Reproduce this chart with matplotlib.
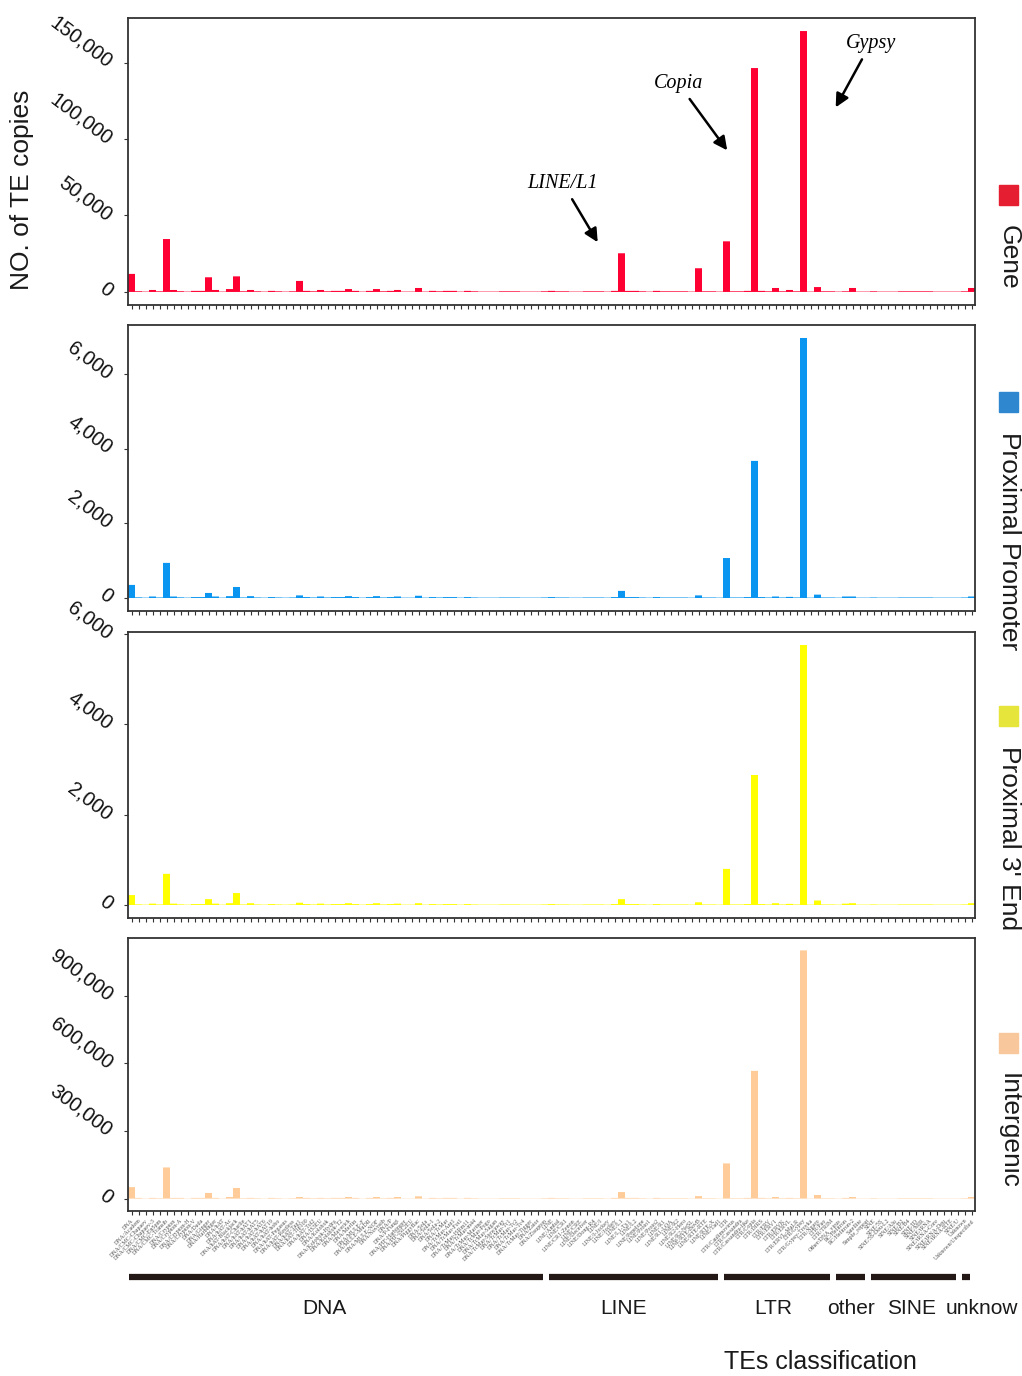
import numpy as np
import matplotlib
matplotlib.use('Agg')
from matplotlib import pyplot as plt
from matplotlib.patches import Rectangle

plt.rcParams['font.family'] = ['Liberation Sans', 'DejaVu Sans']

categories = [
    'DNA', 'DNA/Academ', 'DNA/CMC-Chapaev', 'DNA/CMC-Chapaev-3', 'DNA/CMC-EnSpm',
    'DNA/CMC-Transib', 'DNA/Crypton', 'DNA/Crypton-A', 'DNA/Crypton-H', 'DNA/Crypton-V',
    'DNA/Dada', 'DNA/Ginger', 'DNA/Harbinger', 'DNA/hAT', 'DNA/hAT-Ac',
    'DNA/hAT-Blackjack', 'DNA/hAT-Charlie', 'DNA/hAT-hAT1', 'DNA/hAT-hAT5', 'DNA/hAT-hAT6',
    'DNA/hAT-hAT19', 'DNA/hAT-hobo', 'DNA/hAT-Pegasus', 'DNA/hAT-Restless', 'DNA/hAT-Tag1',
    'DNA/hAT-Tip100', 'DNA/hAT-Tol2', 'DNA/IS3EU', 'DNA/Kolobok', 'DNA/Kolobok-Hydra',
    'DNA/Kolobok-T2', 'DNA/Maverick', 'DNA/Merlin', 'DNA/MULE-F', 'DNA/MULE-MuDR',
    'DNA/MULE-NOF', 'DNA/Novosib', 'DNA/P', 'DNA/P-Fungi', 'DNA/PIF-Harbinger',
    'DNA/PIF-ISL2EU', 'DNA/PiggyBac', 'DNA/Sola', 'DNA/Sola-1', 'DNA/Sola-2',
    'DNA/TcMar', 'DNA/TcMar-Ant1', 'DNA/TcMar-Fot1', 'DNA/TcMar-ISRm11', 'DNA/TcMar-m44',
    'DNA/TcMar-Mariner', 'DNA/TcMar-Pogo', 'DNA/TcMar-Sagan', 'DNA/TcMar-Stowaway', 'DNA/TcMar-Tc1',
    'DNA/TcMar-Tc2', 'DNA/TcMar-Tc4', 'DNA/TcMar-Tigger', 'DNA/Zator', 'DNA/Zisupton',
    'LINE', 'LINE/Ambal', 'LINE/CR1', 'LINE/CR1-Zenon', 'LINE/CRE',
    'LINE/Deceiver', 'LINE/Dong-R4', 'LINE/I', 'LINE/I-Jockey', 'LINE/Jockey',
    'LINE/L1', 'LINE/L1-Tx1', 'LINE/L2', 'LINE/Penelope', 'LINE/Proto1',
    'LINE/Proto2', 'LINE/R1', 'LINE/R1-LOA', 'LINE/R2', 'LINE/R2-Hero',
    'LINE/R2-NeSL', 'LINE/RTE-BovB', 'LINE/RTE-RTE', 'LINE/RTE-X', 'LINE/Tad1',
    'LTR', 'LTR/Caulimovirus', 'LTR/Cassandra', 'LTR/Cassandra-like', 'LTR/Copia',
    'LTR/DIRS', 'LTR/ERV', 'LTR/ERV1', 'LTR/ERVK', 'LTR/ERVL',
    'LTR/ERVL-MaLR', 'LTR/Gypsy', 'LTR/Gypsy-Troyka', 'LTR/Ngaro', 'LTR/Pao',
    'LTR/TRIM', 'Other/DNA_virus', 'RC/Helitron', 'RC/Helitron-2', 'Satellite',
    'Simple_repeat', 'SINE', 'SINE/5S', 'SINE/5S-Deu-L2', 'SINE/Alu',
    'SINE/B2', 'SINE/B4', 'SINE/ID', 'SINE/MIR', 'SINE/tRNA',
    'SINE/tRNA-Core', 'SINE/tRNA-Deu', 'SINE/tRNA-RTE', 'SINE/U', 'Unknown',
    'Unknown/Unspecified',
]

group_names = ['DNA', 'LINE', 'LTR', 'other', 'SINE', 'unknow']
group_sizes = [60, 25, 16, 5, 13, 2]
# label centres below the classification bars, in pixels from the left
group_label_px = [324, 624, 773, 851, 912, 982]

gene = [
    11800, 500, 250, 1300, 450, 34600, 1300, 500, 250, 700,
    700, 9600, 1300, 250, 1900, 10200, 450, 1300, 450, 250,
    700, 450, 250, 450, 7200, 700, 450, 1300, 450, 700,
    700, 1900, 700, 250, 700, 1900, 450, 700, 1300, 250,
    250, 2600, 250, 700, 450, 700, 700, 250, 700, 450,
    250, 250, 250, 450, 450, 450, 250, 250, 250, 450,
    700, 450, 450, 250, 250, 450, 450, 450, 250, 700,
    25300, 700, 700, 450, 250, 700, 450, 450, 450, 450,
    250, 15500, 450, 450, 250, 33100, 450, 450, 700, 146400,
    700, 450, 2600, 450, 1300, 450, 170600, 250, 3200, 450,
    450, 250, 450, 2600, 250, 250, 450, 250, 250, 250,
    450, 450, 450, 450, 450, 250, 250, 250, 250, 450,
    2600,
]

promoter = [
    350, 18, 10, 40, 15, 940, 40, 18, 10, 25,
    25, 135, 40, 10, 50, 295, 15, 50, 15, 10,
    25, 15, 10, 15, 70, 25, 15, 40, 15, 25,
    25, 50, 25, 10, 25, 50, 15, 25, 40, 10,
    10, 60, 10, 25, 15, 25, 25, 10, 25, 15,
    10, 10, 10, 15, 15, 15, 10, 10, 10, 15,
    25, 15, 15, 10, 10, 15, 15, 15, 10, 25,
    190, 25, 25, 15, 10, 25, 15, 15, 15, 15,
    10, 70, 15, 15, 10, 1070, 15, 15, 25, 3670,
    25, 15, 40, 15, 30, 15, 6960, 10, 90, 15,
    15, 10, 40, 40, 10, 10, 15, 10, 10, 10,
    15, 15, 15, 15, 15, 10, 10, 10, 10, 15,
    40,
]

end3 = [
    220, 14, 8, 30, 12, 690, 30, 14, 8, 20,
    20, 130, 30, 8, 40, 265, 12, 40, 12, 8,
    20, 12, 8, 12, 50, 20, 12, 30, 12, 20,
    20, 40, 20, 8, 20, 40, 12, 20, 30, 8,
    8, 40, 8, 20, 12, 20, 20, 8, 20, 12,
    8, 8, 8, 12, 12, 12, 8, 8, 8, 12,
    20, 12, 12, 8, 8, 12, 12, 12, 8, 20,
    130, 20, 20, 12, 8, 20, 12, 12, 12, 12,
    8, 60, 12, 12, 8, 800, 12, 12, 20, 2880,
    20, 12, 40, 12, 25, 12, 5760, 8, 100, 12,
    12, 8, 30, 40, 8, 8, 12, 8, 8, 8,
    12, 12, 12, 12, 12, 8, 8, 8, 8, 12,
    40,
]

intergenic = [
    51000, 3000, 1000, 3000, 2000, 138000, 3000, 3000, 1000, 3000,
    3000, 25000, 3000, 1000, 7000, 47000, 2000, 3000, 2000, 1000,
    3000, 2000, 1000, 2000, 7000, 3000, 2000, 3000, 2000, 3000,
    3000, 7000, 3000, 1000, 3000, 7000, 2000, 3000, 7000, 1000,
    1000, 10000, 1000, 3000, 2000, 3000, 3000, 1000, 3000, 2000,
    1000, 1000, 1000, 2000, 2000, 2000, 1000, 1000, 1000, 2000,
    3000, 2000, 2000, 1000, 1000, 2000, 2000, 2000, 1000, 3000,
    29000, 3000, 3000, 2000, 1000, 3000, 2000, 2000, 2000, 2000,
    1000, 11000, 2000, 2000, 1000, 156000, 2000, 2000, 3000, 566000,
    3000, 2000, 7000, 2000, 3000, 2000, 1100000, 1000, 16000, 2000,
    2000, 1000, 3000, 7000, 1000, 1000, 2000, 1000, 1000, 1000,
    2000, 2000, 2000, 2000, 2000, 1000, 1000, 1000, 1000, 2000,
    7000,
]

panel_names = ['Gene', 'Proximal Promoter', "Proximal 3' End", 'Intergenic']
series = [gene, promoter, end3, intergenic]
bar_colors = ['#FF0033', '#0A96F0', '#FFFF00', '#FFCC99']
key_colors = ['#E61E32', '#2F88CF', '#E5E53C', '#F8C79B']
yticks = [
    [0, 50000, 100000, 150000],
    [0, 2000, 4000, 6000],
    [0, 2000, 4000, 6000],
    [0, 300000, 600000, 900000],
]

W, H = 1022, 1376
fig = plt.figure(figsize=(W / 100, H / 100), dpi=100)


def box(l, t, r, b):
    return [l / W, 1 - b / H, (r - l) / W, (b - t) / H]


panel_px = [(18, 305), (325, 611), (632, 918), (938, 1211)]
key_px = [195, 402, 716, 1043]
n = len(categories)
x = np.arange(n)

axes = []
for k, (vals, (top, bot)) in enumerate(zip(series, panel_px)):
    ax = fig.add_axes(box(128, top, 975, bot))
    ax.bar(x, vals, width=1.0, color=bar_colors[k], linewidth=0, snap=False)
    vmax = max(vals)
    ax.set_ylim(-0.05 * vmax, 1.05 * vmax)
    ax.set_xlim(-0.5, n - 0.5)
    ax.set_yticks(yticks[k])
    ax.set_yticklabels([f'{v:,}' for v in yticks[k]], fontsize=14.5, color='#111111')
    for lbl in ax.get_yticklabels():
        lbl.set_rotation(-37)
        lbl.set_rotation_mode('anchor')
        lbl.set_ha('right')
        lbl.set_va('center_baseline')
    ax.set_xticks(x)
    if k < 3:
        ax.set_xticklabels([])
    else:
        ax.set_xticklabels(categories, rotation=45, ha='right',
                           rotation_mode='anchor', fontsize=4.3,
                           family='Liberation Serif', color='#555555')
    ax.tick_params(axis='both', length=3, width=0.8, color='#333333')
    ax.tick_params(axis='y', pad=9)
    ax.tick_params(axis='x', pad=2)
    for s in ax.spines.values():
        s.set_color('#333333')
        s.set_linewidth(1.3)
    axes.append(ax)

    # coloured key on the right
    cy = key_px[k]
    fig.patches.append(Rectangle((999 / W, 1 - (cy + 10) / H), 19 / W, 20 / H,
                                 transform=fig.transFigure, color=key_colors[k]))
    fig.text(1009 / W, 1 - (cy + 30) / H, panel_names[k], rotation=-90,
             ha='center', va='top', fontsize=19, color='#1a1a1a')

fig.text(22 / W, 1 - 190 / H, 'NO. of TE copies', rotation=90, ha='center',
         va='center', fontsize=19, color='#1a1a1a')

# arrows pointing at the main families
ann = [('LINE/L1', (66.6, 32500), (61.6, 71000)),
       ('Copia', (85.1, 92600), (78.1, 136400)),
       ('Gypsy', (100.6, 120700), (105.6, 162500))]
for txt, tip, pos in ann:
    axes[0].annotate(txt, xy=tip, xytext=pos, ha='center', va='center',
                     fontsize=14.5, fontstyle='italic', family='Liberation Serif',
                     arrowprops=dict(arrowstyle='-|>', color='black', lw=1.8,
                                     mutation_scale=20, shrinkA=3, shrinkB=0))

# classification bars under the axis
axg = fig.add_axes(box(128, 1260, 975, 1325))
axg.set_xlim(-0.5, n - 0.5)
axg.set_ylim(0, 1)
axg.axis('off')
start = 0
for name, size, lpx in zip(group_names, group_sizes, group_label_px):
    end = start + size - 1
    axg.plot([start - 0.3, end - 0.2], [0.74, 0.74], color='#231815',
             lw=4.5, solid_capstyle='butt')
    fig.text(lpx / W, 1 - 1308 / H, name, ha='center', va='center', fontsize=15,
             color='#1a1a1a')
    start = end + 1

fig.text(820 / W, 1 - 1362 / H, 'TEs classification', ha='center', va='center',
         fontsize=18, color='#1a1a1a')

fig.savefig('out.png', dpi=100)
